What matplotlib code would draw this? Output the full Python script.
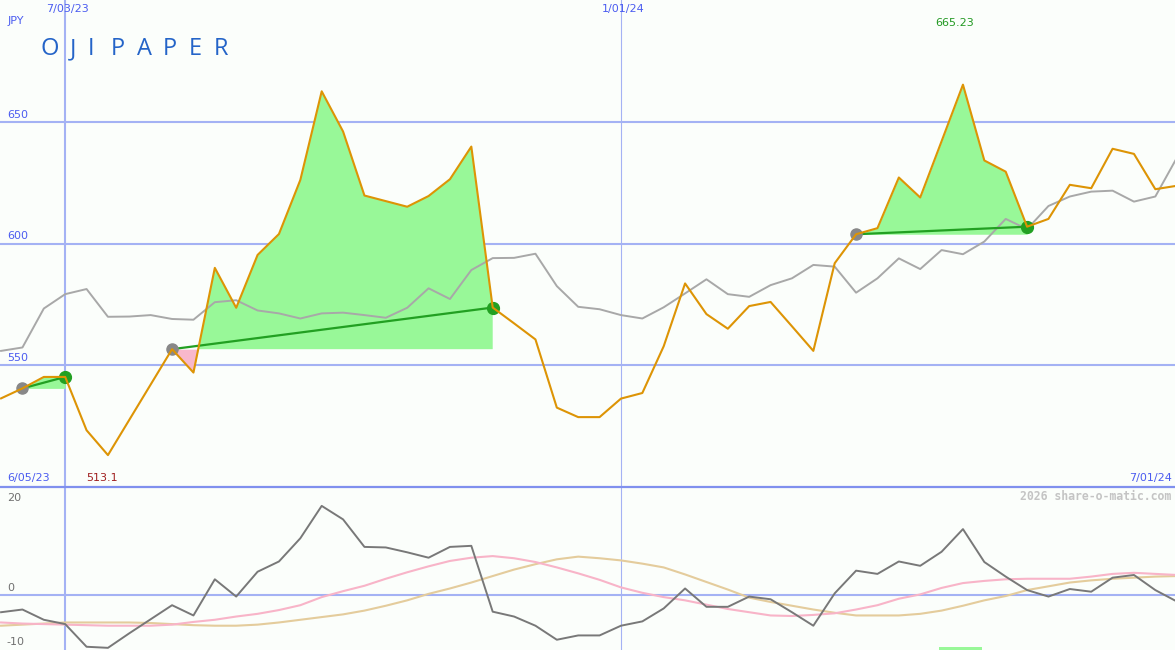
import numpy as np
import pandas as pd
import matplotlib
matplotlib.use('Agg')
import matplotlib.pyplot as plt

# weekly closes, Mondays from 12 Jun 2023
weeks = pd.date_range('2023-06-12', periods=56, freq='W-MON')

price = [536.4, 540.5, 545.2, 545.2, 523.3, 513.1, 527.6, 542.1, 556.6, 547.0,
         590.0, 573.6, 595.3, 603.9, 626.1, 662.5, 646.0, 619.7, 617.4, 615.1,
         619.5, 626.4, 639.8, 573.7, 567.2, 560.6, 532.6, 528.7, 528.7, 536.3,
         538.6, 557.8, 583.6, 571.0, 565.0, 574.3, 576.0, 566.0, 555.9, 591.9,
         603.8, 606.3, 627.1, 618.9, 642.0, 665.23, 634.1, 629.5, 606.9, 610.1,
         624.1, 622.7, 638.9, 636.8, 622.3, 623.7]

average = [555.9, 557.3, 573.3, 579.2, 581.3, 569.9, 570.0, 570.6, 569.0, 568.7,
           575.9, 576.7, 572.5, 571.3, 569.2, 571.3, 571.6, 570.6, 569.5, 573.6,
           581.6, 577.2, 589.1, 594.0, 594.1, 595.8, 582.5, 574.0, 573.0, 570.6,
           569.2, 573.8, 579.5, 585.3, 579.2, 578.1, 582.9, 585.7, 591.2, 590.5,
           579.8, 585.7, 593.9, 589.5, 597.3, 595.6, 600.8, 610.1, 605.9, 615.4,
           619.3, 621.3, 621.7, 617.2, 619.3, 635.1]

momentum = [-3.2, -2.7, -4.6, -5.4, -9.6, -9.8, -7.1, -4.5, -1.9, -3.8,
            2.9, -0.3, 4.3, 6.2, 10.5, 16.5, 14.0, 8.9, 8.8, 7.9,
            6.9, 8.9, 9.1, -3.1, -4.0, -5.7, -8.3, -7.5, -7.5, -5.7,
            -4.9, -2.5, 1.2, -2.2, -2.2, -0.3, -0.8, -3.2, -5.7, 0.3,
            4.5, 3.9, 6.2, 5.4, 8.0, 12.2, 6.1, 3.4, 0.9, -0.3,
            1.1, 0.6, 3.2, 3.7, 0.9, -1.2]

fast_avg = [-5.1, -5.3, -5.4, -5.5, -5.6, -5.7, -5.7, -5.7, -5.5, -5.0,
            -4.6, -4.0, -3.5, -2.8, -1.9, -0.4, 0.7, 1.7, 3.0, 4.2,
            5.3, 6.3, 6.9, 7.2, 6.8, 6.1, 5.1, 4.0, 2.8, 1.4,
            0.4, -0.4, -1.0, -1.8, -2.6, -3.2, -3.8, -3.9, -3.7, -3.4,
            -2.7, -1.9, -0.7, 0.1, 1.3, 2.2, 2.6, 2.9, 3.0, 3.0,
            3.0, 3.4, 3.9, 4.1, 3.9, 3.7]

slow_avg = [-5.7, -5.5, -5.3, -5.1, -5.1, -5.1, -5.1, -5.2, -5.4, -5.6,
            -5.7, -5.7, -5.5, -5.1, -4.6, -4.1, -3.6, -2.9, -2.0, -1.0,
            0.2, 1.2, 2.3, 3.5, 4.7, 5.7, 6.6, 7.1, 6.8, 6.4,
            5.8, 5.1, 3.8, 2.4, 1.0, -0.5, -1.3, -2.0, -2.7, -3.3,
            -3.8, -3.8, -3.8, -3.5, -2.9, -2.0, -1.0, -0.2, 0.9, 1.6,
            2.3, 2.7, 3.0, 3.2, 3.4, 3.5]

signal_start = [1, 8, 40]
signal_end = [3, 23, 48]
price_ticks = [550, 600, 650]
osc_ticks = [20, 0, -10]
marked_dates = ['2023-07-03', '2024-01-01']
range_labels = ['6/05/23', '7/01/24']
highlight = (43.9, 45.9)
title = 'OJI PAPER'

BG = '#fbfefb'
GRID = '#a4b2f4'
BLUE_TXT = '#4b5cf0'
W, H = 1175, 650

fig = plt.figure(figsize=(11.75, 6.5), dpi=100, facecolor=BG)
ax1 = fig.add_axes([0, 163 / H, 1, 487 / H])
ax2 = fig.add_axes([0, 0, 1, 163 / H])
for ax in (ax1, ax2):
  ax.set_facecolor(BG)
  ax.set_xlim(-0.05, 54.92)
  for s in ax.spines.values():
    s.set_visible(False)
  ax.set_xticks([])
  ax.set_yticks([])
ax1.set_ylim(500, 700)
ax2.set_ylim(-10.2, 20)

x = np.arange(len(price))
p = np.array(price)

# grid
for t in price_ticks:
  ax1.axhline(t, color=GRID, lw=1.5, zorder=1)
  ax1.annotate(str(t), xy=(0, t), xycoords=('axes fraction', 'data'),
               xytext=(5, 1.5), textcoords='offset points',
               color=BLUE_TXT, fontsize=8, va='bottom', ha='left')
ax2.axhline(0, color=GRID, lw=1.5, zorder=1)
for t in osc_ticks:
  ax2.annotate(str(t), xy=(0, min(t, 16.6)), xycoords=('axes fraction', 'data'),
               xytext=(5, 1.5), textcoords='offset points',
               color='#707070', fontsize=8, va='bottom', ha='left')

for i, d in enumerate(marked_dates):
  k = weeks.get_loc(pd.Timestamp(d))
  lw = 1.5 if i == 0 else 0.8
  ax1.axvline(k, color=GRID, lw=lw, zorder=1)
  ax2.axvline(k, color=GRID, lw=lw, zorder=1)
  ax1.text(k + 0.1, 1 - 9 / 487, pd.Timestamp(d).strftime('%-m/%d/%y'),
           transform=ax1.get_xaxis_transform(), color=BLUE_TXT,
           fontsize=8, ha='center', va='center')

# signal areas
for s, e in zip(signal_start, signal_end):
  seg = x[s:e + 1]
  vals = p[s:e + 1]
  base = p[s]
  ax1.fill_between(seg, base, vals, where=vals >= base, interpolate=True,
                   color='#98f898', lw=0, zorder=2)
  ax1.fill_between(seg, base, vals, where=vals < base, interpolate=True,
                   color='#f8b8cc', lw=0, zorder=2)
  ax1.plot([s, e], [p[s], p[e]], color='#22a022', lw=1.6, zorder=4)
  ax1.plot(s, p[s], 'o', color='#888888', ms=8, zorder=4)
  ax1.plot(e, p[e], 'o', color='#22a022', ms=8.5, zorder=4)

ax1.plot(x, average, color='#a8a8a8', lw=1.4, zorder=3)
ax1.plot(x, price, color='#dd9405', lw=1.5, zorder=5)

# min / max labels
kmax = int(np.argmax(p))
kmin = int(np.argmin(p))
ax1.text(kmax - 0.4, 1 - 23 / 487, f'{p[kmax]:.2f}', transform=ax1.get_xaxis_transform(),
         color='#229922', fontsize=8, ha='center', va='center')
ax1.text(kmin - 0.3, 9 / 487, f'{p[kmin]:.1f}', transform=ax1.get_xaxis_transform(),
         color='#a02020', fontsize=8, ha='center', va='center')

ax1.text(0.006, 9 / 487, range_labels[0], transform=ax1.transAxes,
         color=BLUE_TXT, fontsize=8, ha='left', va='center')
ax1.text(0.997, 9 / 487, range_labels[1], transform=ax1.transAxes,
         color=BLUE_TXT, fontsize=8, ha='right', va='center')
ax1.text(0.006, 1 - 21 / 487, 'JPY', transform=ax1.transAxes,
         color=BLUE_TXT, fontsize=8, ha='left', va='center')

# letter-spaced title
renderer = fig.canvas.get_renderer()
tx = 40
for ch in title:
  if ch == ' ':
    tx += 5
    continue
  t = fig.text(tx / W, 1 - 49 / H, ch, color='#2464c8', fontsize=17,
               ha='left', va='center', family='Open Sans')
  tx = t.get_window_extent(renderer).x1 + 11.5

# oscillator
ax2.plot(x, slow_avg, color='#e4cc9c', lw=1.5, zorder=2)
ax2.plot(x, fast_avg, color='#f8b4c8', lw=1.5, zorder=2)
ax2.plot(x, momentum, color='#787878', lw=1.4, zorder=3)
ax2.axvspan(highlight[0], highlight[1], ymin=0, ymax=0.02, color='#98f898', lw=0)
ax2.text(0.997, 1 - 9 / 163, '2026 share-o-matic.com', transform=ax2.transAxes,
         color='#c4c4c4', fontsize=8.3, ha='right', va='center',
         family='DejaVu Sans Mono', fontweight='bold')

# panel divider
fig.add_artist(plt.Line2D([0, 1], [163 / H, 163 / H], color='#8090ee', lw=1.6))

fig.savefig('out.png', dpi=100, facecolor=BG)
